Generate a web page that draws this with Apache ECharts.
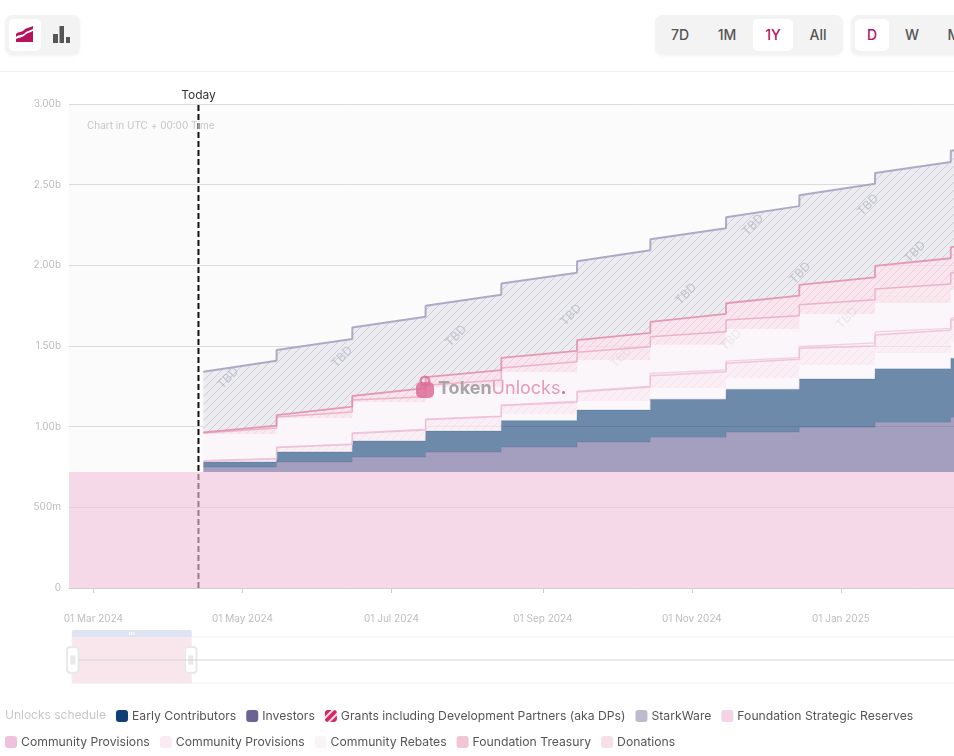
<!DOCTYPE html>
<html lang="en">
<head>
    <meta charset="UTF-8">
    <title>Unlocks schedule</title>
    <style>
        html, body { margin: 0; overflow: hidden; background: #fff; font-family: Inter, sans-serif; }
        #page { position: relative; width: 1200px; height: 756px; }
        #chart { position: absolute; left: 0; top: 0; width: 1200px; height: 756px; }
        #toolbar { position: absolute; left: 0; top: 0; width: 1200px; height: 71px; border-bottom: 1px solid #eee; background: #fff; z-index: 2; }
        .group { position: absolute; top: 15px; height: 40px; background: #f3f3f3; border-radius: 8px; box-shadow: 0 1px 3px rgba(0,0,0,.05); }
        .btn { position: absolute; top: 4px; height: 32px; line-height: 32px; text-align: center; font-size: 14px; font-weight: 500; color: #555; border-radius: 5px; }
        .btn.on { background: #fff; color: #b5135e; }
        .btn svg { display: block; margin: 7px auto 0; }
    </style>
</head>
<body>
<div id="page">
    <div id="chart"></div>
    <div id="toolbar">
        <div class="group" style="left:5px;width:75px">
            <div class="btn on" style="left:4px;width:32px">
                <svg width="18" height="16" viewBox="0 0 18 16"><path fill="#b5135e" d="M0 8 C3 5 5 7 8 4 C11 1 14 2 17 0 V3 C14 5 12 4 9 7 C6 10 3 8 0 11 Z M0 13 C3 11 6 12 9 9 C12 6 14 7 17 5 V16 H0 Z"/></svg>
            </div>
            <div class="btn" style="left:40px;width:32px">
                <svg width="17" height="17" viewBox="0 0 17 17"><path fill="#555" d="M0 8h5v9H0z M6.5 0h4.500v17h-4.500z M13 11h4v6h-4z"/></svg>
            </div>
        </div>
        <div class="group" style="left:655px;width:188px">
            <div class="btn" style="left:5px;width:40px">7D</div>
            <div class="btn" style="left:52px;width:40px">1M</div>
            <div class="btn on" style="left:98px;width:40px">1Y</div>
            <div class="btn" style="left:143px;width:40px">All</div>
        </div>
        <div class="group" style="left:851px;width:130px">
            <div class="btn on" style="left:4px;width:34px">D</div>
            <div class="btn" style="left:44px;width:34px">W</div>
            <div class="btn" style="left:86px;width:34px">M</div>
        </div>
    </div>
</div>

<script src="https://cdn.jsdelivr.net/npm/echarts@6/dist/echarts.min.js"></script>
<script>
    // dates of the monthly unlock steps
    var stepDates = ['2024-04-15', '2024-05-15', '2024-06-15', '2024-07-15', '2024-08-15', '2024-09-15',
        '2024-10-15', '2024-11-15', '2024-12-15', '2025-01-15', '2025-02-15', '2025-03-15'];
    var tickDates = ['2024-03-01', '2024-05-01', '2024-07-01', '2024-09-01', '2024-11-01', '2025-01-01'];
    var todayDate = '2024-04-13';
    var axisStart = '2024-02-20';
    var windowEnd = '2025-05-28';
    var axisEnd = '2036-02-01';
    var monthNames = ['Jan', 'Feb', 'Mar', 'Apr', 'May', 'Jun', 'Jul', 'Aug', 'Sep', 'Oct', 'Nov', 'Dec'];

    // values in millions of tokens, one per monthly step, bottom layer first
    var strategicReserves = [719, 719, 719, 719, 719, 719, 719, 719, 719, 719, 719];
    var investors = [31, 62, 93, 124, 155, 186, 215, 248, 277, 308, 339];
    var earlyContributors = [31, 62, 99, 130, 164, 198, 236, 265, 299, 332, 366];
    var rebates = [0, 0, 0, 6, 40, 56, 70, 70, 87, 97, 101];
    var treasuryStart = [6, 28, 47, 65, 53, 56, 76, 91, 104, 112, 136];
    var treasuryEnd = [19, 47, 68, 84, 74, 87, 101, 116, 118, 143, 160];
    var donationsStart = [3, 3, 3, 3, 3, 6, 14, 14, 10, 19, 12];
    var donationsEnd = [3, 3, 6, 3, 6, 6, 11, 10, 19, 11, 12];
    var provisionsBStart = [164, 180, 192, 198, 205, 192, 177, 198, 203, 180, 174];
    var provisionsBEnd = [152, 161, 167, 180, 180, 161, 155, 178, 180, 157, 149];
    var provisionsAStart = [6, 6, 12, 12, 25, 48, 51, 56, 56, 87, 105];
    var provisionsAEnd = [37, 37, 33, 43, 64, 82, 82, 82, 87, 118, 136];
    var grantsStart = [4, 12, 25, 50, 62, 76, 91, 104, 124, 143, 161];
    var grantsEnd = [14, 33, 54, 62, 68, 87, 110, 124, 139, 159, 174];
    var starkwareStart = [376, 403, 424, 442, 461, 488, 513, 533, 556, 575, 597];
    var starkwareEnd = [403, 420, 442, 467, 484, 511, 531, 555, 580, 597, 620];

    function ts(d) { return new Date(d).getTime(); }

    // each step is a ramp from start to end, the jump falls just before the next date
    function layerPoints(startVals, endVals) {
        var pts = [];
        startVals.forEach(function(v, i) {
            pts.push([ts(stepDates[i]), v]);
            pts.push([ts(stepDates[i + 1]) - 3600000, endVals[i]]);
        });
        return pts;
    }

    function hatch(bg, line, lw) {
        var c = document.createElement('canvas');
        c.width = c.height = 8;
        var ctx = c.getContext('2d');
        ctx.fillStyle = bg;
        ctx.fillRect(0, 0, 8, 8);
        ctx.strokeStyle = line;
        ctx.lineWidth = lw || 0.6;
        ctx.beginPath();
        ctx.moveTo(-1, 9); ctx.lineTo(9, -1);
        ctx.moveTo(-1, 1); ctx.lineTo(1, -1);
        ctx.moveTo(7, 9); ctx.lineTo(9, 7);
        ctx.stroke();
        return { image: c, repeat: 'repeat' };
    }

    function layer(name, pts, fill, lineColor, lineWidth) {
        return {
            name: name,
            type: 'line',
            stack: 'unlocks',
            symbol: 'none',
            silent: true,
            data: pts,
            itemStyle: { color: lineColor },
            lineStyle: { color: lineColor, width: lineWidth },
            areaStyle: { color: fill, opacity: 1 }
        };
    }

    var basePoints = [[ts(axisStart), strategicReserves[0]]]
        .concat(layerPoints(strategicReserves, strategicReserves))
        .concat([[ts(windowEnd), strategicReserves[0]]]);

    var series = [
        {
            name: 'Today',
            type: 'line',
            z: 1,
            symbol: 'none',
            silent: true,
            data: [[ts(todayDate), 0], [ts(todayDate), 3000]],
            lineStyle: { color: '#111', width: 2, type: [6, 3] },
            endLabel: { show: true, formatter: 'Today', distance: 0, align: 'center', verticalAlign: 'bottom', offset: [0, -3], color: '#333', fontSize: 12 }
        },
        layer('Foundation Strategic Reserves', basePoints, 'rgba(241,195,220,.6)', 'rgba(241,195,220,.6)', 0),
        layer('Investors', layerPoints(investors, investors), 'rgba(107,99,150,.6)', 'rgba(107,99,150,.3)', 1),
        layer('Early Contributors', layerPoints(earlyContributors, earlyContributors), 'rgba(15,63,116,.6)', 'rgba(15,63,116,.2)', 1),
        layer('Community Rebates', layerPoints(rebates, rebates), 'rgba(251,246,249,.9)', 'rgba(251,245,248,0)', 0),
        layer('Foundation Treasury', layerPoints(treasuryStart, treasuryEnd), hatch('rgba(250,232,240,.6)', 'rgba(242,190,212,.5)'), 'rgba(236,185,212,.8)', 1.5),
        layer('Donations', layerPoints(donationsStart, donationsEnd), 'rgba(249,233,240,.5)', 'rgba(236,190,215,.7)', 1.2),
        layer('Community Provisions\u200b', layerPoints(provisionsBStart, provisionsBEnd), hatch('rgba(251,246,249,.95)', 'rgba(248,236,242,.6)'), 'rgba(250,244,248,0)', 0),
        layer('Community Provisions', layerPoints(provisionsAStart, provisionsAEnd), hatch('rgba(249,222,232,.6)', 'rgba(240,175,200,.55)'), 'rgba(232,170,195,.85)', 1.5),
        layer('Grants including Development Partners (aka DPs)', layerPoints(grantsStart, grantsEnd), hatch('rgba(248,222,232,.75)', 'rgba(232,160,185,.6)'), 'rgba(224,140,168,.85)', 1.8),
        layer('StarkWare', layerPoints(starkwareStart, starkwareEnd), hatch('#ebebf0', '#c6c6d6', 0.8), '#aeaac6', 2)
    ];

    function legendEntry(name, color) {
        return { name: name, icon: 'roundRect', itemStyle: { color: color } };
    }

    function legendRow(left, top, data) {
        return {
            left: left,
            top: top,
            orient: 'horizontal',
            padding: 0,
            itemGap: 10,
            itemWidth: 12,
            itemHeight: 12,
            selectedMode: false,
            lineStyle: { width: 0 },
            textStyle: { color: '#555', fontSize: 12.2, fontFamily: 'Inter', padding: [0, 0, 0, -1] },
            data: data
        };
    }

    // TBD watermark on the unconfirmed part of the schedule
    var tbdMarks = [[228, 378], [342, 357], [456, 336], [571, 315], [686, 294], [800, 273], [915, 252],
        [753, 225], [868, 205], [621, 357], [731, 340], [847, 318]];
    var tbdFaint = [false, false, false, false, false, false, false, false, false, true, true, true];

    var graphics = tbdMarks.map(function(m, i) {
        return {
            type: 'text',
            x: m[0], y: m[1],
            rotation: Math.PI / 4,
            z: 5,
            silent: true,
            style: {
                text: 'TBD', align: 'center', verticalAlign: 'middle',
                fontSize: 12, fontFamily: 'Inter',
                fill: tbdFaint[i] ? 'rgba(200,200,212,.35)' : 'rgba(180,180,196,.75)'
            }
        };
    });

    graphics.push({
        type: 'text', left: 87, top: 121, silent: true, z: 5,
        style: { text: 'Chart in UTC + 00:00 Time', fontSize: 10, fontFamily: 'Inter', fill: '#c6c6c6' }
    });
    graphics.push({
        type: 'text', left: 5, top: 709, silent: true,
        style: { text: 'Unlocks schedule', fontSize: 12, fontFamily: 'Inter', fill: '#c8c8c8' }
    });
    // flat line of the zoom strip
    graphics.push({
        type: 'line', silent: true, z: 20,
        shape: { x1: 79, y1: 660, x2: 1200, y2: 660 },
        style: { stroke: '#d6d2d4', lineWidth: 1 }
    });
    // logo
    graphics.push({
        type: 'ring', silent: true, z: 6,
        shape: { cx: 425, cy: 381, r: 5.5, r0: 3 },
        style: { fill: 'rgba(221,110,150,.85)' }
    });
    graphics.push({
        type: 'rect', silent: true, z: 6,
        shape: { x: 416, y: 382, width: 18, height: 16, r: 5 },
        style: { fill: 'rgba(221,110,150,.85)' }
    });
    graphics.push({
        type: 'text', silent: true, z: 6, left: 438, top: 380,
        style: {
            text: '{a|Token}{b|Unlocks}{c|.}',
            rich: {
                a: { fontSize: 18, fontWeight: 'bold', fontFamily: 'Inter', fill: '#a8a5a9' },
                b: { fontSize: 18, fontFamily: 'Inter', fill: '#e59ab8' },
                c: { fontSize: 18, fontWeight: 'bold', fontFamily: 'Inter', fill: '#d8709a' }
            }
        }
    });

    var myChart = echarts.init(document.getElementById('chart'));

    myChart.setOption({
        animation: false,
        useUTC: true,
        textStyle: { fontFamily: 'Inter' },
        grid: { show: true, left: 69, right: 0, top: 104, height: 484, backgroundColor: '#fbfbfb', borderWidth: 0 },
        xAxis: {
            type: 'time',
            min: ts(axisStart),
            max: ts(axisEnd),
            splitNumber: 7,
            axisLine: { onZero: false, lineStyle: { color: '#cfcfcf' } },
            axisTick: { show: true, length: 5, lineStyle: { color: '#cfcfcf' } },
            minorTick: { show: false },
            axisLabel: {
                color: '#bdbdbd',
                fontSize: 10,
                margin: 26,
                hideOverlap: false,
                formatter: function(v) {
                    var d = new Date(v);
                    if(tickDates.indexOf(d.toISOString().slice(0, 10)) < 0) return '';
                    return '01 ' + monthNames[d.getUTCMonth()] + ' ' + d.getUTCFullYear();
                }
            },
            splitLine: { show: false }
        },
        yAxis: {
            type: 'value',
            min: 0,
            max: 3000,
            interval: 500,
            axisLine: { show: false },
            axisTick: { show: false },
            axisLabel: {
                color: '#bdbdbd',
                fontSize: 10,
                margin: 8,
                formatter: function(v) {
                    if(v === 0) return '0';
                    return v < 1000 ? v + 'm' : (v / 1000).toFixed(2) + 'b';
                }
            },
            splitLine: { lineStyle: { color: '#dcdcdc' } }
        },
        dataZoom: [{
            type: 'slider',
            xAxisIndex: 0,
            filterMode: 'none',
            startValue: ts(axisStart),
            endValue: ts(windowEnd),
            left: 69,
            right: 0,
            top: 630,
            height: 47,
            showDetail: false,
            showDataShadow: false,
            brushSelect: true,
            backgroundColor: '#fff',
            borderColor: '#efefef',
            borderRadius: 3,
            fillerColor: '#f8e6ec',
            moveHandleSize: 7,
            moveHandleStyle: { color: '#dde3f0', opacity: 1 },
            handleIcon: 'path://M3 0 H8 A3 3 0 0 1 11 3 V22 A3 3 0 0 1 8 25 H3 A3 3 0 0 1 0 22 V3 A3 3 0 0 1 3 0 Z M4 9 V16 H5 V9 Z M6 9 V16 H7 V9 Z',
            handleSize: '55%',
            handleStyle: { color: '#fff', borderColor: '#e9e9e9', borderWidth: 2 }
        }],
        legend: [
            legendRow(116, 710, [
                legendEntry('Early Contributors', '#0f3f74'),
                legendEntry('Investors', '#6b6396'),
                legendEntry('Grants including Development Partners (aka DPs)', hatch('#d6245f', '#fbe3ec', 2)),
                legendEntry('StarkWare', '#bdbccd'),
                legendEntry('Foundation Strategic Reserves', '#f3d3e5')
            ]),
            legendRow(5, 736, [
                legendEntry('Community Provisions', '#efc1dc'),
                legendEntry('Community Provisions\u200b', '#faecf2'),
                legendEntry('Community Rebates', '#fbf4f7'),
                legendEntry('Foundation Treasury', '#f1c5d6'),
                legendEntry('Donations', '#f7dfe9')
            ])
        ],
        graphic: graphics,
        series: series
    });
</script>
</body>
</html>
